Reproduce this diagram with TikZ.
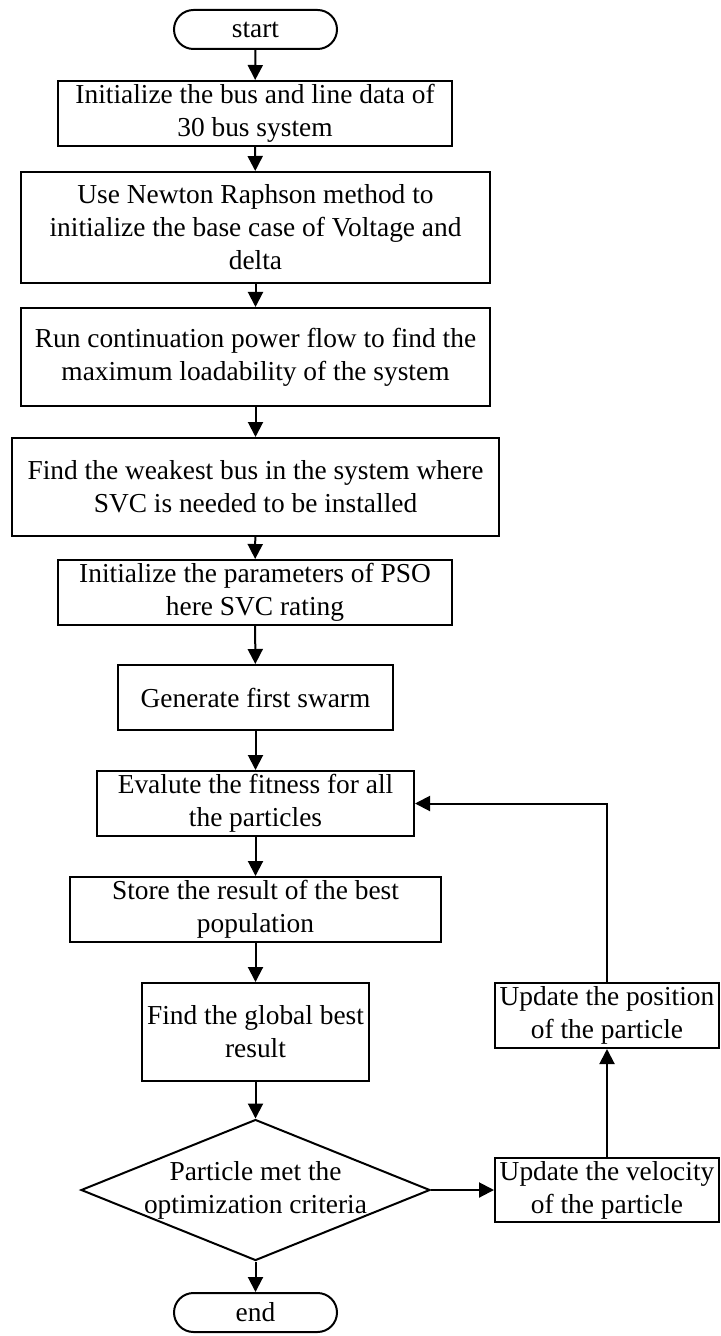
\documentclass[tikz,border=0pt]{standalone}
\usepackage{fontspec}
\setmainfont{Liberation Serif}
\usetikzlibrary{shapes.geometric, arrows.meta, positioning}

\begin{document}
\begin{tikzpicture}[
        x=0.5pt, y=-0.5pt,
        block/.style={draw, line width=1pt, inner sep=1pt, align=center, font=\fontsize{13.7}{16.5}\selectfont},
        terminal/.style={block, rounded corners=9.75pt, minimum width=81.5pt, minimum height=19.5pt},
        decision/.style={draw, diamond, line width=1pt, inner sep=0pt, minimum width=174.5pt, minimum height=70.5pt},
        arrow/.style={-{Triangle[length=7.5pt, width=7.5pt]}, line width=1pt}
    ]
        \useasboundingbox (0,0) rectangle (721,1336);

        % Set-up of the system
        \node[terminal] (start) at (255.5, 29.5) {start};
        \node[block, minimum width=197pt, minimum height=32.5pt] (init) at (255, 113.5) {Initialize the bus and line data of\\30 bus system};
        \node[block, minimum width=234.5pt, minimum height=55.5pt] (newton) at (255.5, 227.5) {Use Newton Raphson method to\\initialize the base case of Voltage and\\delta};
        \node[block, minimum width=234.5pt, minimum height=49pt] (cpf) at (255.5, 357) {Run continuation power flow to find the\\maximum loadability of the system};
        \node[block, minimum width=243.5pt, minimum height=49pt] (weak) at (255.5, 487) {Find the weakest bus in the system where\\SVC is needed to be installed};

        % PSO
        \node[block, minimum width=197pt, minimum height=32.5pt] (pso) at (255, 592.5) {Initialize the parameters of PSO\\here SVC rating};
        \node[block, minimum width=137.5pt, minimum height=32.5pt] (swarm) at (255.5, 697.5) {Generate first swarm};
        \node[block, minimum width=158.5pt, minimum height=32.5pt] (fitness) at (255.5, 803.5) {Evalute the fitness for all\\the particles};
        \node[block, minimum width=185.5pt, minimum height=32.5pt] (store) at (255.5, 909.5) {Store the result of the best\\population};
        \node[block, minimum width=113.5pt, minimum height=49pt] (gbest) at (255.5, 1032) {Find the global best\\result};

        % Check and end
        \node[decision, label={[align=center, font=\fontsize{13.7}{16.5}\selectfont]center:Particle met the\\optimization criteria}] (check) at (255.5, 1190) {};
        \node[terminal] (stop) at (255.5, 1312.5) {end};

        % Update loop
        \node[block, minimum width=112pt, minimum height=32pt] (velocity) at (607, 1190) {Update the velocity\\of the particle};
        \node[block, minimum width=112pt, minimum height=32.5pt] (position) at (607, 1015.5) {Update the position\\of the particle};

        % Arrows
        \draw[arrow] (start) -- (init);
        \draw[arrow] (init) -- (newton);
        \draw[arrow] (newton) -- (cpf);
        \draw[arrow] (cpf) -- (weak);
        \draw[arrow] (weak) -- (pso);
        \draw[arrow] (pso) -- (swarm);
        \draw[arrow] (swarm) -- (fitness);
        \draw[arrow] (fitness) -- (store);
        \draw[arrow] (store) -- (gbest);
        \draw[arrow] (gbest) -- (check);
        \draw[arrow] (check) -- (stop);
        \draw[arrow] (check) -- (velocity);
        \draw[arrow] (velocity) -- (position);
        \draw[arrow] (position) |- (fitness);
    \end{tikzpicture}
\end{document}
